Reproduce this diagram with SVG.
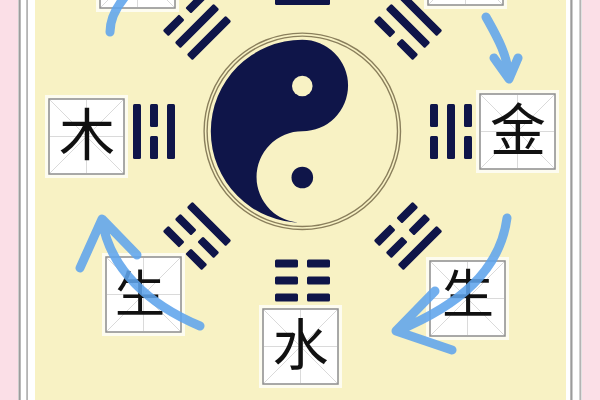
<svg xmlns="http://www.w3.org/2000/svg" xmlns:xlink="http://www.w3.org/1999/xlink" width="600" height="400" viewBox="0 0 600 400">
<style>
.bar{fill:#0f1549}
.ring{fill:none;stroke:#8a7f5c;stroke-width:1.4}
.bx{fill:#fff;stroke:#8c8c8c;stroke-width:1.5}
.gl{stroke:#dadada;stroke-width:1;fill:none}
.halo{fill:#fff;opacity:0.75}
.ch{font-family:"Noto Sans CJK SC","Noto Sans CJK JP",sans-serif;fill:#111;text-anchor:middle}
.arr{fill:none;stroke:#5ea4ec;stroke-width:9;stroke-linecap:round;stroke-linejoin:round;opacity:0.88}
</style>
<defs>
<rect id="sol" class="bar" x="-27.5" y="-4" width="55" height="8" rx="1.5"/>
<g id="brk" class="bar"><rect x="-27.5" y="-4" width="23" height="8" rx="1.5"/><rect x="4.5" y="-4" width="23" height="8" rx="1.5"/></g>
<g id="box">
<rect class="halo" x="-4" y="-4" width="83" height="83"/>
<rect class="bx" x="0" y="0" width="75" height="75"/>
<path class="gl" d="M1,1 L74,74 M74,1 L1,74 M37.5,1 V74 M1,37.5 H74"/>
</g>
</defs>
<!-- background -->
<rect x="0" y="0" width="600" height="400" fill="#f8f2c4"/>
<rect x="0" y="0" width="18" height="400" fill="#fbdfe7"/>
<rect x="18" y="0" width="17" height="400" fill="#fff"/>
<rect x="18.5" y="0" width="2.2" height="400" fill="#9c9c9c"/>
<rect x="26.2" y="0" width="1.8" height="400" fill="#b4b4b4"/>
<rect x="566" y="0" width="16" height="400" fill="#fff"/>
<rect x="570.3" y="0" width="2.2" height="400" fill="#9c9c9c"/>
<rect x="579.4" y="0" width="2" height="400" fill="#b4b4b4"/>
<rect x="582" y="0" width="18" height="400" fill="#fbdfe7"/>

<g id="taiji">
<circle class="ring" cx="302.3" cy="131.3" r="98.2"/>
<circle class="ring" cx="302.3" cy="131.3" r="95.2"/>
<path fill="#0f1549" d="M302.3,39.8 A91.5,91.5 0 0 0 302.3,222.8 A45.75,45.75 0 0 1 302.3,131.3 A45.75,45.75 0 0 0 302.3,39.8 Z"/>
<circle cx="302.3" cy="86" r="10.3" fill="#f8f2c4"/>
<circle cx="302.3" cy="177.5" r="10.8" fill="#0f1549"/>
</g>

<g id="trigram-top" transform="translate(302.5,-16) rotate(180)"><use xlink:href="#sol" y="-17"/><use xlink:href="#sol"/><use xlink:href="#sol" y="17"/></g>
<g id="trigram-ne" transform="translate(408,26) rotate(-135)"><use xlink:href="#brk" y="-17"/><use xlink:href="#sol"/><use xlink:href="#sol" y="17"/></g>
<g id="trigram-right" transform="translate(451,131.5) rotate(-90)"><use xlink:href="#brk" y="-17"/><use xlink:href="#sol"/><use xlink:href="#brk" y="17"/></g>
<g id="trigram-se" transform="translate(408,236) rotate(-45)"><use xlink:href="#brk" y="-17"/><use xlink:href="#brk"/><use xlink:href="#sol" y="17"/></g>
<g id="trigram-bottom" transform="translate(302.5,280.5)"><use xlink:href="#brk" y="-17"/><use xlink:href="#brk"/><use xlink:href="#brk" y="17"/></g>
<g id="trigram-sw" transform="translate(197,236) rotate(45)"><use xlink:href="#sol" y="-17"/><use xlink:href="#brk"/><use xlink:href="#brk" y="17"/></g>
<g id="trigram-left" transform="translate(154,131.5) rotate(90)"><use xlink:href="#sol" y="-17"/><use xlink:href="#brk"/><use xlink:href="#sol" y="17"/></g>
<g id="trigram-nw" transform="translate(197,26) rotate(135)"><use xlink:href="#sol" y="-17"/><use xlink:href="#sol"/><use xlink:href="#brk" y="17"/></g>

<g id="box-topleft"><use xlink:href="#box" x="100" y="-67"/></g>
<g id="box-topright"><use xlink:href="#box" x="428" y="-70"/></g>
<g id="node-mu"><use xlink:href="#box" x="49" y="99"/><text class="ch" x="87" y="155" font-size="56">木</text></g>
<g id="node-jin"><use xlink:href="#box" x="480" y="94"/><text class="ch" x="518" y="150" font-size="56">金</text></g>
<g id="node-sheng-left"><use xlink:href="#box" x="106" y="257"/><text class="ch" x="140" y="312" font-size="50">生</text></g>
<g id="node-sheng-right"><use xlink:href="#box" x="430" y="261"/><text class="ch" x="468" y="313" font-size="52">生</text></g>
<g id="node-shui"><use xlink:href="#box" x="263" y="309"/><text class="ch" x="300.5" y="365" font-size="56">水</text></g>

<g id="connectors">
<path class="arr" d="M110,32 C110,20 116,8 124,-2"/>
<path class="arr" d="M486,17 C496,35 508,55 509,78 M494,58 L509,79 L518,58"/>
<path class="arr" d="M507,218 C500,270 460,305 397,331 M435,291 L396,331 L452,350"/>
<path class="arr" d="M200,326 C150,305 110,270 102,220 M80,268 L102,219 L137,255"/>
</g>
</svg>
